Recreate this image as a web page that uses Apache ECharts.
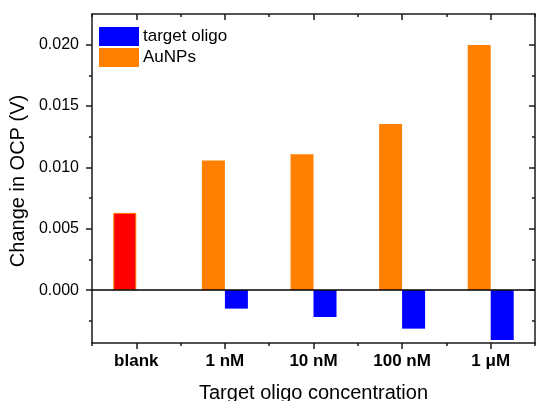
<!DOCTYPE html>
<html>
<head>
<meta charset="utf-8">
<script src="https://cdn.jsdelivr.net/npm/echarts@6/dist/echarts.min.js"></script>
<style>
html,body{margin:0;padding:0;background:#fff;}
#chart{width:536px;height:401px;}
</style>
</head>
<body>
<div id="chart"></div>
<script>
const categories = ['blank', '1 nM', '10 nM', '100 nM', '1 μM'];
const aunpValues = [0.0063, 0.01056, 0.01108, 0.01353, 0.01998];
const oligoValues = [null, -0.0015, -0.00218, -0.00313, -0.00406];
const yMajorTicks = [0, 0.005, 0.010, 0.015, 0.020];
const yMinorTicks = [-0.0025, 0.0025, 0.0075, 0.0125, 0.0175];
const yMin = -0.0043, yMax = 0.0225;

const FONT = 'Liberation Sans, Arial, sans-serif';
const AX = '#1a1a1a';

const chart = echarts.init(document.getElementById('chart'), null, {renderer: 'canvas'});

function xAx(pos, major, extra) {
  return Object.assign({
    type: 'category', data: categories, position: pos, gridIndex: 0,
    boundaryGap: true,
    axisLine: {show: major, onZero: false, lineStyle: {color: AX, width: 1.5}},
    axisTick: {show: true, alignWithLabel: major, inside: pos === 'top', length: major ? 6 : 3,
      lineStyle: {color: AX, width: 1.5}},
    axisLabel: {show: false},
    splitLine: {show: false}
  }, extra || {});
}
function yAx(pos, major, extra) {
  return Object.assign({
    type: 'value', position: pos, gridIndex: 0, min: yMin, max: yMax,
    axisLine: {show: major, onZero: false, lineStyle: {color: AX, width: 1.5}},
    axisTick: {show: true, inside: pos === 'right', length: major ? 6 : 3,
      customValues: major ? yMajorTicks : yMinorTicks,
      lineStyle: {color: AX, width: 1.5}},
    axisLabel: {show: false},
    splitLine: {show: false}
  }, extra || {});
}

const aunpData = aunpValues.map((v, i) => i === 0 ? {value: v, itemStyle: {color: '#FF0000', borderColor: '#FF8000', borderWidth: 1}} : v);

chart.setOption({
  animation: false,
  backgroundColor: '#fff',
  textStyle: {fontFamily: FONT},
  grid: {left: 92, right: 1, top: 14, bottom: 58, containLabel: false, outerBoundsMode: 'none'},
  legend: {
    orient: 'vertical', left: 99, top: 27, itemWidth: 40, itemHeight: 19, itemGap: 2,
    icon: 'rect', data: ['target oligo', 'AuNPs'],
    textStyle: {fontFamily: FONT, fontSize: 17, color: '#000', padding: [0, 0, 0, -1]},
    padding: 0
  },
  xAxis: [
    xAx('bottom', true, {
      axisLabel: {show: true, fontFamily: FONT, fontSize: 17, fontWeight: 'bold', color: '#000', margin: 10},
      name: 'Target oligo concentration', nameLocation: 'middle', nameGap: 40,
      nameTextStyle: {fontFamily: FONT, fontSize: 20, color: '#000'}
    }),
    xAx('bottom', false),
    xAx('top', true),
    xAx('top', false)
  ],
  yAxis: [
    yAx('left', true, {
      axisLabel: {show: true, customValues: yMajorTicks, fontFamily: FONT, fontSize: 16, color: '#000', margin: 13,
        formatter: v => v.toFixed(3)},
      name: 'Change in OCP (V)', nameLocation: 'middle', nameGap: 59,
      nameTextStyle: {fontFamily: FONT, fontSize: 20, color: '#000', padding: [0, 5, 0, 0]}
    }),
    yAx('left', false),
    yAx('right', true),
    yAx('right', false)
  ],
  series: [
    {
      name: 'AuNPs', type: 'bar', xAxisIndex: 0, yAxisIndex: 0,
      data: aunpData, barWidth: 23, barGap: '0%',
      itemStyle: {color: '#FF8000'},
      markLine: {
        silent: true, symbol: 'none', label: {show: false},
        lineStyle: {color: '#000', width: 1.5, type: 'solid'},
        data: [{yAxis: 0}]
      }
    },
    {
      name: 'target oligo', type: 'bar', xAxisIndex: 0, yAxisIndex: 0,
      data: oligoValues, barWidth: 23, barGap: '0%',
      itemStyle: {color: '#0000FF'}
    }
  ]
});
</script>
</body>
</html>
